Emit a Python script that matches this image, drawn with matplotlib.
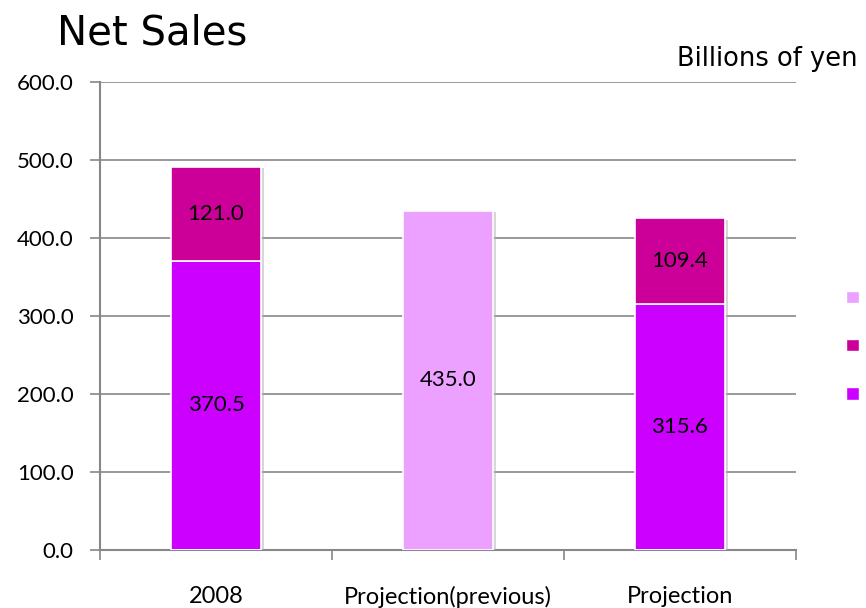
import matplotlib
matplotlib.use("Agg")
import matplotlib.pyplot as plt
import matplotlib.patheffects as pe
from matplotlib.patches import Patch

# Net sales, billions of yen
categories = ["2008", "Projection(previous)", "Projection"]
lower = [370.5, 0.0, 315.6]      # purple segment
upper = [121.0, 0.0, 109.4]      # magenta segment
previous = [0.0, 435.0, 0.0]     # earlier projection, single bar

C_LOWER = "#cc00ff"
C_UPPER = "#cc0099"
C_PREV = "#eca0ff"
AXIS_GREY = "#878787"

plt.rcParams["font.family"] = ["Lato", "DejaVu Sans"]

fig = plt.figure(figsize=(8.66, 6.08), dpi=100)
ax = fig.add_axes([0.1155, 0.0954, 0.8035, 0.7698])

x = range(len(categories))
width = 0.39
shadow = [pe.SimplePatchShadow(offset=(2, -1), shadow_rgbFace="#b0b0b0", alpha=0.5), pe.Normal()]

bars_low = ax.bar(x, lower, width, color=C_LOWER, edgecolor="white", linewidth=1.2, zorder=3)
bars_up = ax.bar(x, upper, width, bottom=lower, color=C_UPPER, edgecolor="white", linewidth=1.2, zorder=3)
bars_prev = ax.bar(x, previous, width, color=C_PREV, edgecolor="white", linewidth=1.2, zorder=3)
for b in list(bars_low) + list(bars_up) + list(bars_prev):
    b.set_path_effects(shadow)

# value labels in the middle of each segment
for i in x:
    if lower[i] > 0:
        ax.text(i, lower[i] / 2, f"{lower[i]:.1f}", ha="center", va="center", fontsize=16, zorder=4)
    if upper[i] > 0:
        ax.text(i, lower[i] + upper[i] / 2, f"{upper[i]:.1f}", ha="center", va="center", fontsize=16, zorder=4)
    if previous[i] > 0:
        ax.text(i, previous[i] / 2, f"{previous[i]:.1f}", ha="center", va="center", fontsize=16, zorder=4)

ax.set_xlim(-0.5, 2.5)
ax.set_ylim(0, 600)
ax.set_yticks(range(0, 601, 100))
ax.set_yticklabels([f"{v:.1f}" for v in range(0, 601, 100)], fontsize=16)
ax.yaxis.grid(True, color=AXIS_GREY, linewidth=1.2, zorder=0)
ax.set_axisbelow(True)

ax.set_xticks(list(x))
ax.set_xticklabels(categories, fontsize=17)
ax.set_xticks([-0.5, 0.5, 1.5, 2.5], minor=True)
ax.tick_params(axis="x", which="major", length=0, pad=26)
ax.tick_params(axis="x", which="minor", length=7, width=1.2, color=AXIS_GREY)
ax.tick_params(axis="y", length=7, width=1.2, color=AXIS_GREY, pad=12)

for side in ("top", "right"):
    ax.spines[side].set_visible(False)
for side in ("left", "bottom"):
    ax.spines[side].set_color(AXIS_GREY)
    ax.spines[side].set_linewidth(1.5)

fig.text(0.066, 0.926, "Net Sales", fontsize=29, va="baseline", family=["DejaVu Sans"])
fig.text(0.782, 0.891, "Billions of yen", fontsize=18.5, va="baseline", family=["DejaVu Sans"])

handles = [Patch(facecolor=C_PREV, edgecolor="white"),
           Patch(facecolor=C_UPPER, edgecolor="white"),
           Patch(facecolor=C_LOWER, edgecolor="white")]
fig.legend(handles, ["", "", ""], loc="upper left", bbox_to_anchor=(0.977, 0.523),
           frameon=False, handlelength=0.75, handleheight=0.75, labelspacing=1.93,
           handletextpad=0.2, borderpad=0, borderaxespad=0, fontsize=12)

fig.savefig("out.png", dpi=100)
